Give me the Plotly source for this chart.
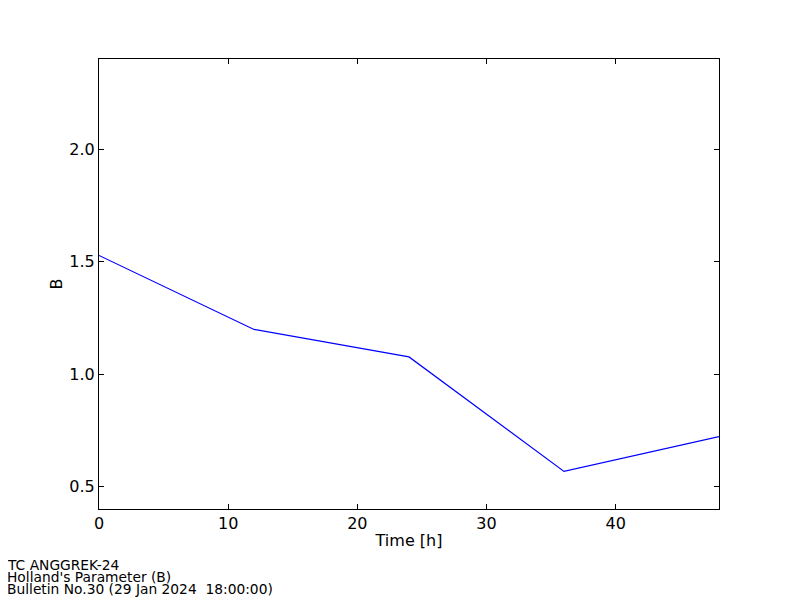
import plotly.graph_objects as go

hours = [0, 12, 24, 36, 48]
b_values = [1.527, 1.198, 1.076, 0.567, 0.722]
x_ticks = [0, 10, 20, 30, 40]
y_ticks = [0.5, 1.0, 1.5, 2.0]
footer_lines = ["TC ANGGREK-24", "Holland's Parameter (B)", "Bulletin No.30 (29 Jan 2024  18:00:00)"]

# page body has 8px margin; figure placed at (8, 8)
L, T, PW, PH = 91, 51, 620, 450

fig = go.Figure()
fig.add_trace(go.Scatter(x=hours, y=b_values, mode="lines",
                         line=dict(color="#0000ff", width=1.2), showlegend=False))

axis_common = dict(showgrid=False, zeroline=False, showline=True, linecolor="black", linewidth=1.2,
                   mirror="all", ticks="inside", ticklen=5, tickcolor="black", tickwidth=1,
                   tickfont=dict(family="DejaVu Sans", size=16, color="black"))

fig.update_layout(
    width=800, height=600,
    paper_bgcolor="white", plot_bgcolor="white",
    margin=dict(l=L, r=800 - L - PW, t=T, b=600 - T - PH, autoexpand=False),
    font=dict(family="DejaVu Sans", color="black"),
    xaxis=dict(range=[0, 48], tickvals=x_ticks, ticktext=[str(v) for v in x_ticks],
               title=dict(text="Time [h]", font=dict(size=16), standoff=2), **axis_common),
    yaxis=dict(range=[0.4, 2.4], tickvals=y_ticks, ticktext=[f"{v:.1f}" for v in y_ticks],
               title=dict(text="B", font=dict(size=16), standoff=2), **axis_common),
)

line_centers = [557, 569, 581]
for text, cy in zip(footer_lines, line_centers):
    fig.add_annotation(x=(-2 - L) / PW, y=(T + PH - cy) / PH, xref="paper", yref="paper",
                       text=text, showarrow=False, xanchor="left", yanchor="middle",
                       borderpad=0, font=dict(size=13.8, family="DejaVu Sans", color="black"))

fig.write_html("out.html")
